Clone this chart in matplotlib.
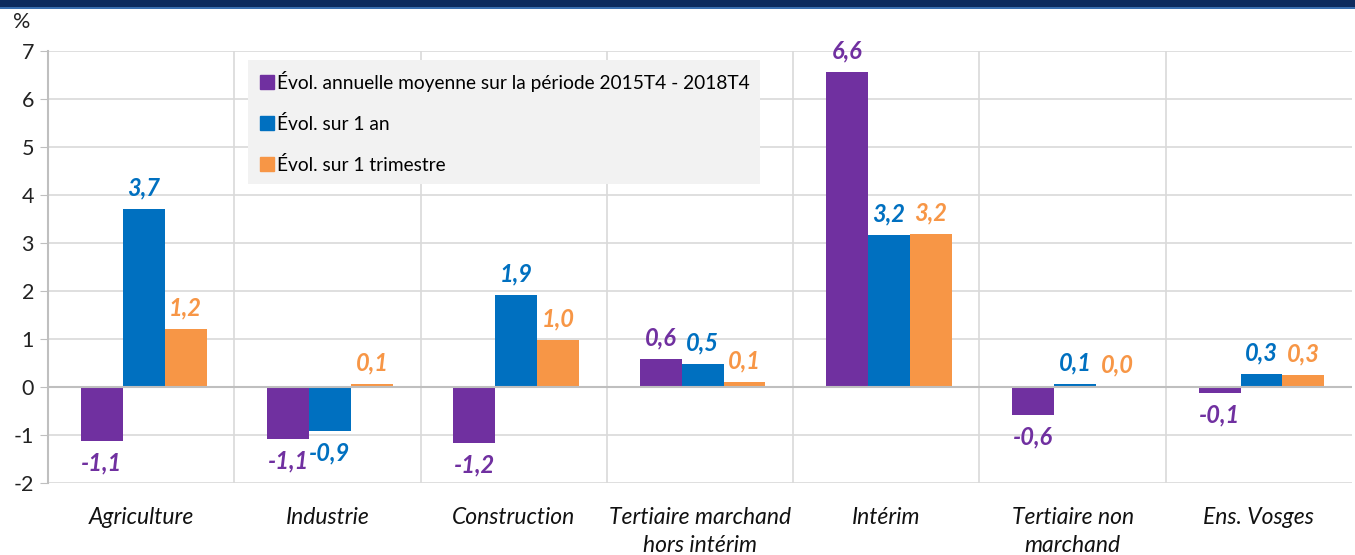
import matplotlib.pyplot as plt
import numpy as np
from matplotlib.lines import Line2D
from matplotlib.patches import Rectangle

categories = ["Agriculture", "Industrie", "Construction", "Tertiaire marchand\nhors intérim",
              "Intérim", "Tertiaire non\nmarchand", "Ens. Vosges"]
series_names = ["Évol. annuelle moyenne sur la période 2015T4 - 2018T4",
                "Évol. sur 1 an", "Évol. sur 1 trimestre"]
evol_moyenne = [-1.12, -1.08, -1.17, 0.58, 6.56, -0.58, -0.12]
evol_1an = [3.70, -0.92, 1.92, 0.47, 3.16, 0.06, 0.27]
evol_1trim = [1.21, 0.07, 0.97, 0.10, 3.18, 0.02, 0.26]
colors = ["#7030a0", "#0070c0", "#f79646"]

plt.rcParams['font.family'] = ['Lato', 'DejaVu Sans']

fig = plt.figure(figsize=(13.55, 5.55), dpi=100)
ax = fig.add_axes([0.0354, 0.1297, 0.9624, 0.7784])

# dark band at the top
fig.patches.append(Rectangle((0, 1 - 7/555), 1, 7/555, transform=fig.transFigure,
                             facecolor="#0d2b5e", edgecolor="none"))
fig.patches.append(Rectangle((0, 1 - 9/555), 1, 2/555, transform=fig.transFigure,
                             facecolor="#3a6fb0", edgecolor="none"))

x = np.arange(len(categories))
w = 0.225
for k, (vals, c) in enumerate(zip([evol_moyenne, evol_1an, evol_1trim], colors)):
    xs = x + (k - 1) * w + 0.014
    ax.bar(xs, vals, width=w, color=c, zorder=3)
    for xi, v in zip(xs, vals):
        txt = f"{v:.1f}".replace(".", ",")
        if v >= 0:
            ax.text(xi, v + 0.2, txt, ha="center", va="bottom", color=c,
                    fontsize=17, fontweight="bold", fontstyle="italic")
        else:
            ax.text(xi, v - 0.22, txt, ha="center", va="top", color=c,
                    fontsize=17, fontweight="bold", fontstyle="italic")

ax.set_xlim(-0.5, len(categories) - 0.5)
ax.set_ylim(-2, 7)
ax.set_yticks(range(-2, 8))
ax.set_yticklabels([str(v) for v in range(-2, 8)], fontsize=15.5, color="#222222")
ax.set_xticks(x)
ax.set_xticklabels(categories, fontsize=16.5, fontstyle="italic", color="#111111",
                   linespacing=1.45)
ax.tick_params(axis="x", length=0, pad=17)
ax.tick_params(axis="y", length=6, color="#bfbfbf", pad=4)

ax.grid(axis="y", color="#d9d9d9", linewidth=1.2, zorder=0)
for b in np.arange(0.5, len(categories) - 0.5):
    ax.axvline(b, color="#d9d9d9", linewidth=1.2, zorder=0)
ax.axhline(0, color="#bfbfbf", linewidth=1.5, zorder=4)
for s in ["top", "right", "bottom"]:
    ax.spines[s].set_visible(False)
ax.spines["left"].set_color("#bfbfbf")
ax.spines["left"].set_linewidth(1.5)

fig.text(22/1355, 1 - 22/555, "%", fontsize=15.5, ha="center", va="center", color="#222222")

handles = [Line2D([], [], marker="s", linestyle="none", markersize=10, color=c) for c in colors]
leg = ax.legend(handles, series_names, loc="upper left",
                bbox_to_anchor=(248/1355, 1 - 60/555), bbox_transform=fig.transFigure,
                fontsize=13.8, frameon=True, fancybox=False, handletextpad=0.05,
                labelspacing=1.2, borderpad=0.55, handlelength=0.9, borderaxespad=0)
leg.get_frame().set_facecolor("#f2f2f2")
leg.get_frame().set_edgecolor("none")
leg.get_frame().set_alpha(1)
leg.set_zorder(5)

fig.savefig("out.png", dpi=100)
